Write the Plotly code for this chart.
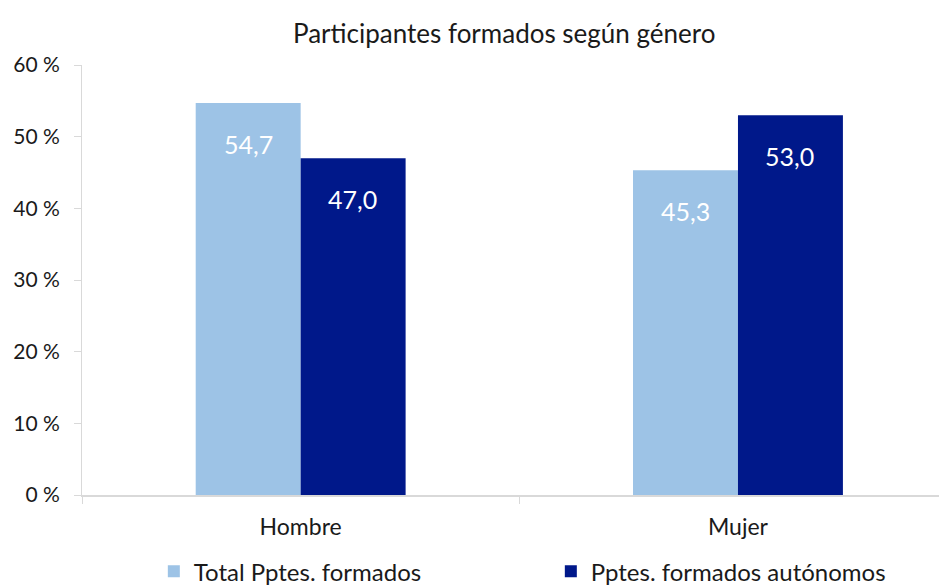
import plotly.graph_objects as go

categories = ["Hombre", "Mujer"]
series_names = ["Total Pptes. formados", "Pptes. formados autónomos"]
total_vals = [54.7, 45.3]
auto_vals = [47.0, 53.0]
y_ticks = [0, 10, 20, 30, 40, 50, 60]

colors = ["#9DC3E6", "#00188A"]
FONT = "Lato, Open Sans, sans-serif"

fig = go.Figure()
for name, vals, col in zip(series_names, [total_vals, auto_vals], colors):
    fig.add_trace(go.Bar(
        name=name, x=categories, y=vals, marker=dict(color=col, line=dict(width=0)),
        hoverinfo="skip",
    ))

# data labels (inside end, white)
for k, vals in enumerate([total_vals, auto_vals]):
    off = -52 if k == 0 else 52
    for c, v in zip(categories, vals):
        fig.add_annotation(
            x=c, y=v, xref="x", yref="y", text=f"{v:.1f}".replace(".", ","),
            showarrow=False, xshift=off, yshift=-41,
            font=dict(family=FONT, size=25, color="white"),
        )

fig.update_layout(
    width=947, height=586,
    paper_bgcolor="white", plot_bgcolor="white",
    margin=dict(l=74, r=8, t=57, b=99, autoexpand=False),
    barmode="group", bargap=0.52, bargroupgap=0,
    font=dict(family=FONT, size=20, color="#1a1a1a"),
    title=dict(text="Participantes formados según género", x=0.524, xanchor="center",
               y=0.955, yanchor="middle", automargin=False,
               font=dict(family=FONT, size=26, color="#1a1a1a")),
    showlegend=True,
    legend=dict(orientation="h", x=0.542, xanchor="center", y=-0.178, yanchor="middle",
                font=dict(family=FONT, size=24, color="#1a1a1a"),
                entrywidth=352, itemwidth=30, traceorder="normal"),
)
fig.update_yaxes(
    range=[0, 60], tickvals=y_ticks, ticktext=[f"{t} %" for t in y_ticks],
    showgrid=False, zeroline=False, showline=True, linecolor="#D9D9D9", linewidth=1,
    ticks="outside", ticklen=7, tickcolor="#D9D9D9", tickfont=dict(size=21),
    automargin=False, ticklabelstandoff=10,
)
fig.update_xaxes(
    range=[-0.5, 1.478], showgrid=False, showline=True, linecolor="#D9D9D9", linewidth=2,
    ticks="outside", tickson="boundaries", ticklen=7, tickcolor="#D9D9D9",
    tickfont=dict(size=23), automargin=False, ticklabelstandoff=10,
)

fig.write_html("out.html")
